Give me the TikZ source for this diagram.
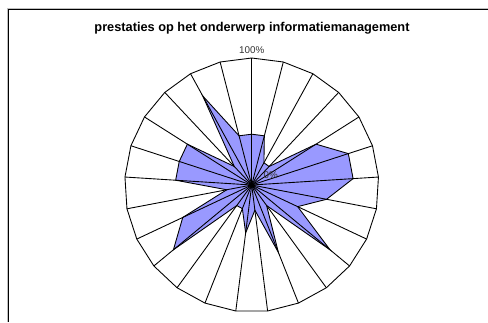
\documentclass[tikz,border=0pt]{standalone}
\usepackage{fontspec}
\setmainfont{Liberation Sans}
\usepackage{tikz}
\definecolor{serieblue}{RGB}{153,153,255}

\begin{document}
\begin{tikzpicture}[x=0.03cm, y=0.03cm,
        raster/.style={draw=black, line width=0.75pt},
        asLabel/.style={font=\fontsize{8.4}{10}\selectfont, text=black!80, inner sep=0pt}]
    \useasboundingbox (0,0) rectangle (488,322);

    % Frame (only top and left edge visible)
    \draw[gray!50, line width=0.6pt] (7.6,0) -- (7.6,314) -- (488,314);
    \draw[black, line width=0.8pt] (8.8,0) -- (8.8,312.6) -- (488,312.6);

    % Title
    \node[font=\fontsize{10.9}{13}\selectfont\bfseries] (titel) at (252,294) {prestaties op het onderwerp informatiemanagement};

    \begin{scope}[shift={(251.7,137)}]
        \def\R{127}
        % Series (25 spokes, 0% at centre, 100% at ring)
        \draw[raster, fill=serieblue] (90:0.4*\R)
            \foreach \v [count=\k] in {0.4,0.2,0.2,0.6,0.8,0.8,0.6,0.4,0.8,0.2,0.57,0.2,0.38,0.2,0.2,0.8,0.6,0.2,0.6,0.6,0.6,0.2,0.8,0.4}
            { -- ({90-14.4*\k}:{\v*\R}) } -- cycle;

        % Spokes
        \foreach \k in {0,...,24}
            \draw[raster] (0,0) -- ({90-14.4*\k}:\R);

        % Outer ring
        \draw[raster] (90:\R) \foreach \k in {1,...,24} { -- ({90-14.4*\k}:\R) } -- cycle;

        % Axis labels
        \node[asLabel] (honderd) at (0,\R+8) {100\%};
        \node[asLabel] (nul) at (19,10) {0\%};
    \end{scope}
\end{tikzpicture}
\end{document}
